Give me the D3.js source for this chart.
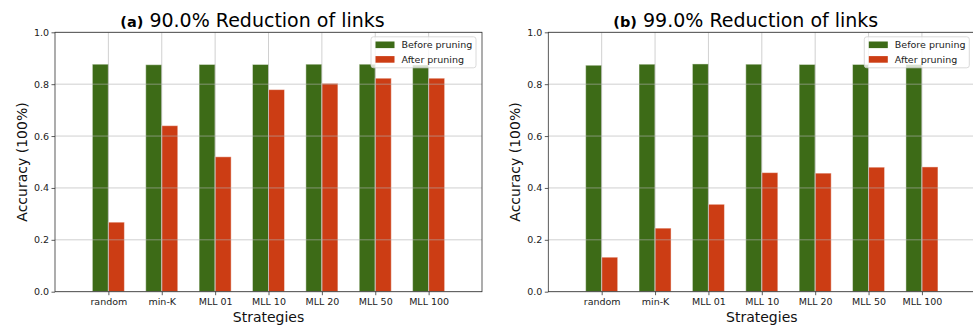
<!DOCTYPE html>
<html>
<head>
<meta charset="utf-8">
<script src="https://cdn.jsdelivr.net/npm/d3@7/dist/d3.min.js"></script>
<style>
  html, body { margin: 0; padding: 0; background: #fff; }
  svg { display: block; font-family: "DejaVu Sans", sans-serif; }
</style>
</head>
<body>
<svg id="chart" width="973" height="329"></svg>
<script>
// Pruning strategies compared
const strategies = ["random", "min-K", "MLL 01", "MLL 10", "MLL 20", "MLL 50", "MLL 100"];

// (a) 90% of links removed
const before90 = [0.877, 0.875, 0.876, 0.876, 0.877, 0.877, 0.874];
const after90  = [0.268, 0.640, 0.520, 0.779, 0.803, 0.823, 0.823];

// (b) 99% of links removed
const before99 = [0.873, 0.877, 0.878, 0.877, 0.876, 0.876, 0.876];
const after99  = [0.133, 0.245, 0.337, 0.459, 0.457, 0.480, 0.481];

const yTicks = [0.0, 0.2, 0.4, 0.6, 0.8, 1.0];
const seriesNames = ["Before pruning", "After pruning"];
const colors = ["#3d6b17", "#cc3d14"];

const panels = [
  { tag: "(a)", title: " 90.0% Reduction of links", before: before90, after: after90, left: 55 },
  { tag: "(b)", title: " 99.0% Reduction of links", before: before99, after: after99, left: 548.3 }
];

const svg = d3.select("#chart");
const plotTop = 32.3, plotBottom = 291.7, plotW = 427;
const barW = 0.3;

panels.forEach(p => {
  const g = svg.append("g");
  const x = d3.scaleLinear().domain([-1, 7]).range([p.left, p.left + plotW]);
  const y = d3.scaleLinear().domain([0, 1]).range([plotBottom, plotTop]);

  // bars: before sits left of the category position, after to the right
  const barsBefore = p.before.map((v, i) => ({ x0: i - barW, v, c: colors[0] }));
  const barsAfter = p.after.map((v, i) => ({ x0: i, v, c: colors[1] }));
  g.selectAll("rect.bar")
    .data(barsBefore.concat(barsAfter))
    .join("rect")
    .attr("class", "bar")
    .attr("x", d => x(d.x0))
    .attr("width", d => x(d.x0 + barW) - x(d.x0))
    .attr("y", d => y(d.v))
    .attr("height", d => y(0) - y(d.v))
    .attr("fill", d => d.c)
    .attr("stroke", "rgba(255,255,255,0.45)")
    .attr("stroke-width", 1);

  // grid lines over the bars
  const grid = g.append("g");
  grid.selectAll("line.h").data(yTicks).join("line")
    .attr("x1", p.left).attr("x2", p.left + plotW)
    .attr("y1", d => y(d)).attr("y2", d => y(d))
    .attr("stroke", "#b0b0b0").attr("stroke-opacity", 0.6).attr("stroke-width", 1);
  grid.selectAll("line.v").data(d3.range(strategies.length)).join("line")
    .attr("x1", d => x(d)).attr("x2", d => x(d))
    .attr("y1", plotTop).attr("y2", plotBottom)
    .attr("stroke", "#b0b0b0").attr("stroke-opacity", 0.6).attr("stroke-width", 1);

  // axes
  const yAxis = d3.axisLeft(y).tickValues(yTicks).tickFormat(d3.format(".1f")).tickSize(3.5).tickPadding(2.5);
  const xAxis = d3.axisBottom(x).tickValues(d3.range(strategies.length))
    .tickFormat(i => strategies[i]).tickSize(3.5).tickPadding(3);
  const ya = g.append("g").attr("transform", `translate(${p.left},0)`).call(yAxis);
  const xa = g.append("g").attr("transform", `translate(0,${plotBottom})`).call(xAxis);
  [ya, xa].forEach(a => {
    a.select(".domain").remove();
    a.selectAll("line").attr("stroke", "#333").attr("stroke-width", 0.8);
    a.selectAll("text").attr("fill", "#222").style("font-size", "9.5px")
      .style("font-family", "DejaVu Sans, sans-serif");
  });

  // frame
  g.append("rect")
    .attr("x", p.left).attr("y", plotTop)
    .attr("width", plotW).attr("height", plotBottom - plotTop)
    .attr("fill", "none").attr("stroke", "#333").attr("stroke-width", 0.8);

  // axis labels
  g.append("text")
    .attr("x", p.left + plotW / 2).attr("y", 322)
    .attr("text-anchor", "middle").style("font-size", "14px").attr("fill", "#111")
    .text("Strategies");
  g.append("text")
    .attr("transform", `translate(${p.left - 28},${(plotTop + plotBottom) / 2}) rotate(-90)`)
    .attr("text-anchor", "middle").style("font-size", "14px").attr("fill", "#111")
    .text("Accuracy (100%)");

  // title: small bold panel tag followed by the heading
  const t = g.append("text")
    .attr("x", p.left + 197.5).attr("y", 26.5)
    .attr("text-anchor", "middle").style("font-size", "19px").attr("fill", "#000");
  t.append("tspan").style("font-weight", "bold").style("font-size", "14.5px").text(p.tag);
  t.append("tspan").text(p.title);

  // legend
  const lx = p.left + plotW - 111, ly = 36.8;
  const lg = g.append("g").attr("transform", `translate(${lx},${ly})`);
  lg.append("rect")
    .attr("width", 105).attr("height", 31).attr("rx", 2.5)
    .attr("fill", "rgba(255,255,255,0.8)").attr("stroke", "#d0d0d0").attr("stroke-width", 0.8);
  seriesNames.forEach((name, i) => {
    const row = lg.append("g").attr("transform", `translate(0,${8 + i * 14.6})`);
    row.append("rect").attr("x", 4.5).attr("y", -3.3).attr("width", 19).attr("height", 6.6)
      .attr("fill", colors[i]);
    row.append("text").attr("x", 30.5).attr("y", 3.4)
      .style("font-size", "9.5px").attr("fill", "#222").text(name);
  });
});
</script>
</body>
</html>
